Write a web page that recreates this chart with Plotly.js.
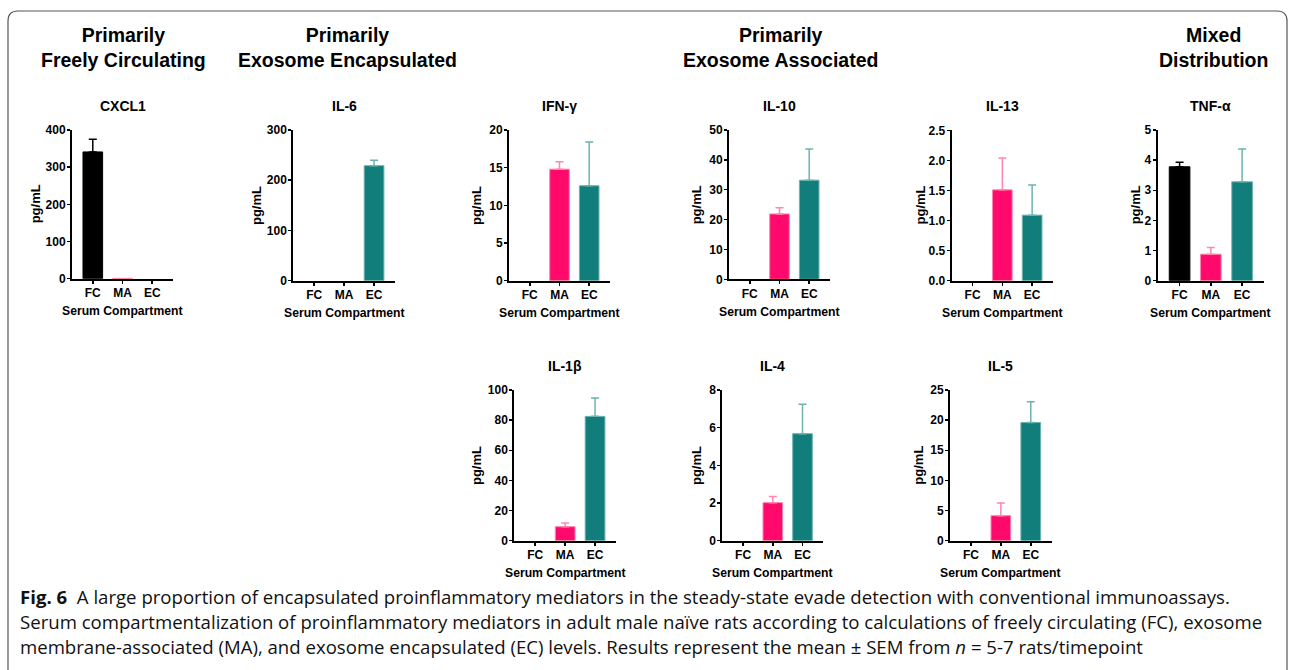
<!DOCTYPE html>
<html><head><meta charset="utf-8">
<script src="https://cdn.plot.ly/plotly-3.0.1.min.js"></script>
<style>body{margin:0;background:#fff}#chart{width:1290px;height:670px}</style>
</head><body><div id="chart"></div>
<script>
// ---------------- DATA ----------------
const categories = ['FC', 'MA', 'EC'];
const panelNames = ['CXCL1', 'IL-6', 'IFN-γ', 'IL-10', 'IL-13', 'TNF-α', 'IL-1β', 'IL-4', 'IL-5'];
// mean values (pg/mL) per panel, order FC, MA, EC
const cxcl1Mean = [341, 1, 0];
const il6Mean   = [0, 0, 229];
const ifngMean  = [0, 14.8, 12.6];
const il10Mean  = [0, 21.9, 33.2];
const il13Mean  = [0, 1.51, 1.09];
const tnfaMean  = [3.78, 0.88, 3.28];
const il1bMean  = [0, 9.3, 82.5];
const il4Mean   = [0, 2.02, 5.68];
const il5Mean   = [0, 4.15, 19.6];
// mean + SEM (top of error bar); null = no error bar
const cxcl1Upper = [375, null, null];
const il6Upper   = [null, null, 240];
const ifngUpper  = [null, 15.8, 18.4];
const il10Upper  = [null, 24.0, 43.6];
const il13Upper  = [null, 2.04, 1.59];
const tnfaUpper  = [3.93, 1.10, 4.37];
const il1bUpper  = [null, 11.7, 94.7];
const il4Upper   = [null, 2.34, 7.24];
const il5Upper   = [null, 6.25, 23.06];
// y-axis maxima and tick steps
const yMax   = [400, 300, 20, 50, 2.5, 5, 100, 8, 25];
const yDtick = [100, 100, 5, 10, 0.5, 1, 20, 2, 5];
const groupHeaders = ['Primarily<br>Freely Circulating', 'Primarily<br>Exosome Encapsulated',
                      'Primarily<br>Exosome Associated', 'Mixed<br>Distribution'];
const xTitle = 'Serum Compartment';
const yTitle = 'pg/mL';
const captionLines = [
  '<b>Fig. 6</b>  A large proportion of encapsulated proinflammatory mediators in the steady-state evade detection with conventional immunoassays.',
  'Serum compartmentalization of proinflammatory mediators in adult male naïve rats according to calculations of freely circulating (FC), exosome',
  'membrane-associated (MA), and exosome encapsulated (EC) levels. Results represent the mean ± SEM from <i>n</i> = 5-7 rats/timepoint'
];
const means  = [cxcl1Mean, il6Mean, ifngMean, il10Mean, il13Mean, tnfaMean, il1bMean, il4Mean, il5Mean];
const uppers = [cxcl1Upper, il6Upper, ifngUpper, il10Upper, il13Upper, tnfaUpper, il1bUpper, il4Upper, il5Upper];

// ---------------- LAYOUT GEOMETRY (pixels) ----------------
const W = 1290, H = 670;
const boxes = [
  {x0: 72,    x1: 173,    yt: 130,   yb: 278.7, ytx: 35},
  {x0: 293.3, x1: 395,    yt: 130,   yb: 280.7, ytx: 256.7},
  {x0: 509,   x1: 610,    yt: 130,   yb: 280.7, ytx: 476.7},
  {x0: 729,   x1: 830,    yt: 130,   yb: 279.3, ytx: 696.7},
  {x0: 951.7, x1: 1053,   yt: 130.3, yb: 280.7, ytx: 920},
  {x0: 1157.7,x1: 1264,   yt: 130,   yb: 280.7, ytx: 1135},
  {x0: 514.3, x1: 616,    yt: 390,   yb: 540.7, ytx: 476.7},
  {x0: 722.3, x1: 823.3,  yt: 390,   yb: 540.7, ytx: 696.7},
  {x0: 950,   x1: 1051.7, yt: 390,   yb: 540.7, ytx: 918.3}
];
const headerPos = [123, 347, 780, 1213];
const px = x => x / W;
const py = y => 1 - y / H;

const barColors  = ['#000000', '#ff0a6c', '#127e7b'];
const lineColors = ['#000000', '#ff86b0', '#6db3b0'];
const errColors  = ['#000000', '#ff86b0', '#6db3b0'];
const FONT = 'Liberation Sans, Arial, Helvetica, sans-serif';

const traces = [];
const layout = {
  width: W, height: H,
  margin: {l: 0, r: 0, t: 0, b: 0},
  paper_bgcolor: '#ffffff', plot_bgcolor: 'rgba(0,0,0,0)',
  showlegend: false, barmode: 'overlay',
  font: {family: FONT, color: '#000'},
  annotations: [], shapes: []
};

boxes.forEach((b, i) => {
  const k = i + 1;
  const xa = 'x' + (k === 1 ? '' : k), ya = 'y' + (k === 1 ? '' : k);
  categories.forEach((c, j) => {
    const v = means[i][j];
    const up = uppers[i][j];
    traces.push({
      type: 'bar', x: [c], y: [v], xaxis: xa, yaxis: ya, width: 0.66,
      marker: {color: barColors[j], line: {color: lineColors[j], width: v > 0 ? 1 : 0}},
      error_y: {type: 'data', symmetric: false,
        array: [up === null ? NaN : up - v], arrayminus: [0],
        color: errColors[j], thickness: 1.5, width: 4, visible: up !== null},
      hoverinfo: 'none'
    });
  });
  const xk = 'xaxis' + (k === 1 ? '' : k), yk = 'yaxis' + (k === 1 ? '' : k);
  layout[xk] = {
    domain: [px(b.x0), px(b.x1)], anchor: ya, type: 'category',
    categoryorder: 'array', categoryarray: categories,
    range: [-0.7, 2.7], showline: true, linewidth: 2, linecolor: '#000',
    ticks: 'outside', ticklen: 3, tickwidth: 1.5, tickcolor: '#000',
    ticklabelstandoff: -1,
    showgrid: false, zeroline: false,
    tickfont: {family: FONT, size: 12, weight: 'bold', color: '#000'}
  };
  layout[yk] = {
    domain: [py(b.yb), py(b.yt)], anchor: xa,
    range: [0, yMax[i]], dtick: yDtick[i], tick0: 0,
    tickformat: yMax[i] === 2.5 ? '.1f' : '',
    showline: true, linewidth: 2, linecolor: '#000',
    ticks: 'outside', ticklen: 3, tickwidth: 1.5, tickcolor: '#000',
    ticklabelstandoff: -1,
    showgrid: false, zeroline: false,
    tickfont: {family: FONT, size: 12, weight: 'bold', color: '#000'}
  };
  const cx = (b.x0 + b.x1) / 2;
  layout.annotations.push({
    text: '<b>' + panelNames[i] + '</b>', xref: 'paper', yref: 'paper',
    x: px(cx), y: py(b.yt - 24), xanchor: 'center', yanchor: 'middle', showarrow: false,
    font: {family: FONT, size: 14, color: '#000'}
  });
  layout.annotations.push({
    text: '<b>' + xTitle + '</b>', xref: 'paper', yref: 'paper',
    x: px(cx), y: py(b.yb + 32.5), xanchor: 'center', yanchor: 'middle', showarrow: false,
    font: {family: FONT, size: 12.2, color: '#000'}
  });
  layout.annotations.push({
    text: '<b>' + yTitle + '</b>', xref: 'paper', yref: 'paper', textangle: -90,
    x: px(b.ytx), y: py((b.yt + b.yb) / 2), xanchor: 'center', yanchor: 'middle', showarrow: false,
    font: {family: FONT, size: 13, color: '#000'}
  });
});

groupHeaders.forEach((t, i) => {
  layout.annotations.push({
    text: '<b>' + t + '</b>', xref: 'paper', yref: 'paper',
    x: px(headerPos[i]), y: py(47), xanchor: 'center', yanchor: 'middle', showarrow: false,
    align: 'center', font: {family: FONT, size: 19.5, color: '#000'}
  });
});

const capY = [596, 621, 646];
captionLines.forEach((t, i) => {
  layout.annotations.push({
    text: t, xref: 'paper', yref: 'paper',
    x: px(18), y: py(capY[i]), xanchor: 'left', yanchor: 'middle', showarrow: false,
    align: 'left', font: {family: 'Open Sans, Noto Sans, sans-serif', size: 18.6, color: '#111'}
  });
});

// rounded frame
const fx0 = px(8), fx1 = px(1287), fyTop = py(11), fyBot = py(672), rx = px(10), ry = 10 / H;
layout.shapes.push({
  type: 'path', xref: 'paper', yref: 'paper', layer: 'below',
  path: `M ${fx0} ${fyBot} L ${fx0} ${fyTop - ry} Q ${fx0} ${fyTop} ${fx0 + rx} ${fyTop} L ${fx1 - rx} ${fyTop} Q ${fx1} ${fyTop} ${fx1} ${fyTop - ry} L ${fx1} ${fyBot}`,
  line: {color: '#555555', width: 1.2}
});

Plotly.newPlot('chart', traces, layout, {staticPlot: true, displayModeBar: false});
</script></body></html>
